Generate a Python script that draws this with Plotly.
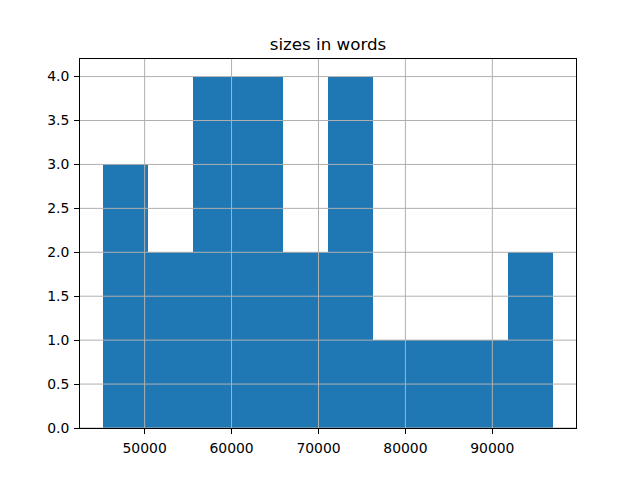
import plotly.graph_objects as go

bin_edges = [45159, 50346, 55533, 60720, 65907, 71094, 76281, 81468, 86655, 91842, 97029]
counts = [3, 2, 4, 4, 2, 4, 1, 1, 1, 2]
x_ticks = [50000, 60000, 70000, 80000, 90000]
y_ticks = [0.0, 0.5, 1.0, 1.5, 2.0, 2.5, 3.0, 3.5, 4.0]

centers = [(a + b) / 2 for a, b in zip(bin_edges[:-1], bin_edges[1:])]
widths = [b - a for a, b in zip(bin_edges[:-1], bin_edges[1:])]

fig = go.Figure(go.Bar(x=centers, y=counts, width=widths,
                       marker=dict(color="#1f77b4", line=dict(width=0))))

grid = dict(color="#b0b0b0", width=1)
shapes = []
for xv in x_ticks:
    shapes.append(dict(type="line", xref="x", yref="paper", x0=xv, x1=xv, y0=0, y1=1,
                       line=grid, layer="above"))
for yv in y_ticks:
    shapes.append(dict(type="line", xref="paper", yref="y", x0=0, x1=1, y0=yv, y1=yv,
                       line=grid, layer="above"))

span = bin_edges[-1] - bin_edges[0]
fig.update_layout(
    width=640, height=480,
    paper_bgcolor="white", plot_bgcolor="white",
    margin=dict(l=72, r=72, t=51, b=60),
    title=dict(text="sizes in words", x=(72 + 248) / 640, xanchor="center", y=1 - 36/480, yanchor="middle",
               font=dict(family="DejaVu Sans", size=16.7, color="black")),
    showlegend=False, bargap=0,
    font=dict(family="DejaVu Sans", size=13.9, color="black"),
    shapes=shapes,
)
fig.update_xaxes(range=[bin_edges[0] - 0.05 * span, bin_edges[-1] + 0.05 * span],
                 tickvals=x_ticks, ticktext=[str(v) for v in x_ticks],
                 showgrid=False,
                 showline=True, linecolor="black", linewidth=1, mirror=True,
                 ticks="outside", ticklen=5, tickcolor="black", zeroline=False,
                 layer="above traces", ticklabelstandoff=2)
fig.update_yaxes(range=[0, 4.2], tickvals=y_ticks, ticktext=[f"{v:.1f}" for v in y_ticks],
                 showgrid=False,
                 showline=True, linecolor="black", linewidth=1, mirror=True,
                 ticks="outside", ticklen=5, tickcolor="black", zeroline=False,
                 layer="above traces", ticklabelstandoff=2)
fig.write_html("out.html")
